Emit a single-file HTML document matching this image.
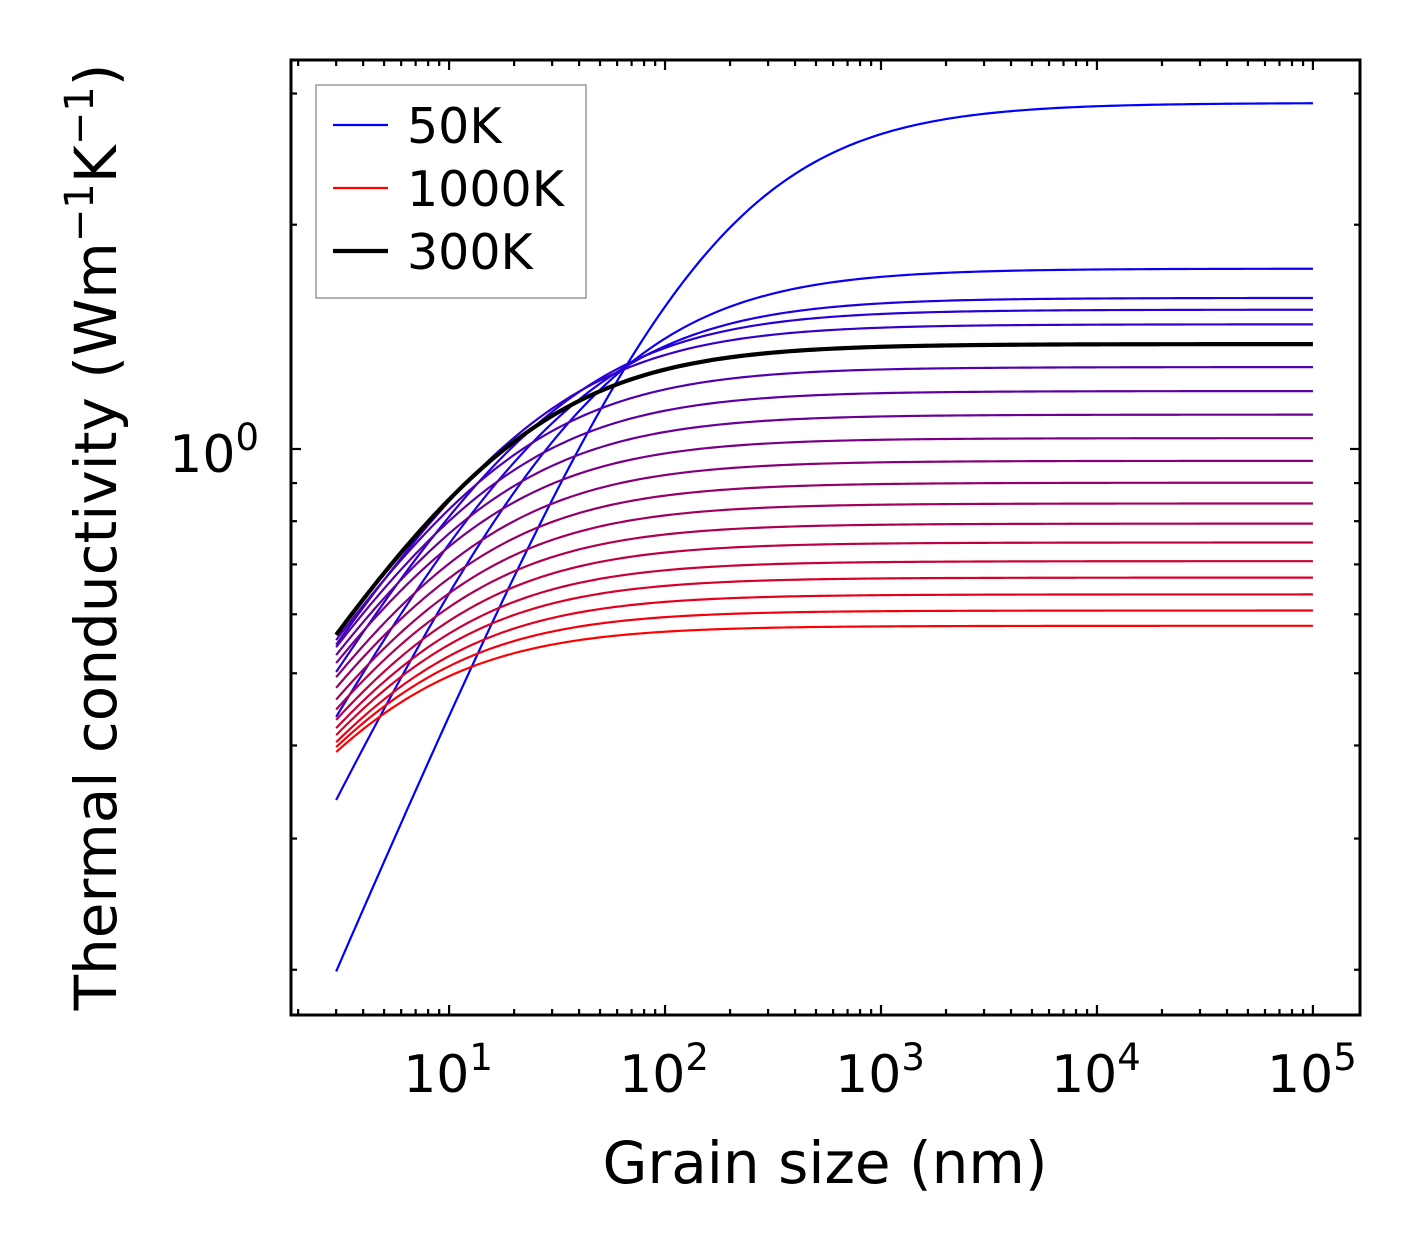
<!DOCTYPE html>
<html><head><meta charset="utf-8"><style>
html,body{margin:0;padding:0;background:#fff;}
svg{display:block;font-family:"DejaVu Sans","Liberation Sans",sans-serif;}
</style></head>
<body>
<svg id="chart" width="1421" height="1254" xmlns="http://www.w3.org/2000/svg"></svg>
<script>
const temperatures = [50,100,150,200,250,300,350,400,450,500,550,600,650,700,750,800,850,900,950,1000];
const kInf = [2.914,1.746,1.595,1.538,1.470,1.383,1.288,1.196,1.112,1.034,0.964,0.901,0.845,0.794,0.749,0.707,0.672,0.638,0.607,0.579];
const k3 = [0.199,0.338,0.437,0.502,0.546,0.563,0.554,0.542,0.529,0.516,0.494,0.478,0.461,0.447,0.433,0.422,0.413,0.404,0.398,0.392];
const shapeExp = [0.68,0.6,0.52,0.48,0.46,0.45,0.45,0.45,0.45,0.45,0.45,0.45,0.45,0.45,0.45,0.45,0.45,0.45,0.45,0.45];
const grainMin = 3, grainMax = 1e5;
const xTickExps = [1,2,3,4,5];
const yMinorVals = [0.2,0.3,0.4,0.5,0.6,0.7,0.8,0.9,2,3];

const NS="http://www.w3.org/2000/svg";
const svg=document.getElementById('chart');
const L=291,R=1360,T=60,B=1015;
const xLogMin=0.268, xLogMax=5.218;
const yLogMin=-0.7597, yLogMax=0.5221;
function xs(v){return L+(Math.log10(v)-xLogMin)/(xLogMax-xLogMin)*(R-L);}
function ys(v){return B-(Math.log10(v)-yLogMin)/(yLogMax-yLogMin)*(B-T);}
function mk(tag,attrs,parent){const e=document.createElementNS(NS,tag);for(const k in attrs)e.setAttribute(k,attrs[k]);(parent||svg).appendChild(e);return e;}

const clip=mk('clipPath',{id:'plotclip'});
mk('rect',{x:L,y:T,width:R-L,height:B-T},clip);

const curves=mk('g',{'clip-path':'url(#plotclip)'});


function pathFor(i){
  const p=shapeExp[i];
  const r3=k3[i]/kInf[i];
  const Lc=grainMin*(Math.pow(r3,-1/p)-1);
  let d='';
  const n=200;
  for(let j=0;j<=n;j++){
    const lg=Math.log10(grainMin)+(Math.log10(grainMax)-Math.log10(grainMin))*j/n;
    const g=Math.pow(10,lg);
    const k=kInf[i]*Math.pow(1+Lc/g,-p);
    d+=(j?'L':'M')+xs(g).toFixed(2)+','+ys(k).toFixed(2);
  }
  return d;
}
let blackIdx=-1;
temperatures.forEach((t,i)=>{
  if(t===300){blackIdx=i;return;}
  const f=(t-50)/950;
  const col=`rgb(${Math.round(255*f)},0,${Math.round(255*(1-f))})`;
  const p=mk('path',{d:pathFor(i),fill:'none',stroke:col,'stroke-width':2.2},curves);
  
  
});
if(blackIdx>=0){
  const p=mk('path',{d:pathFor(blackIdx),fill:'none',stroke:'#000','stroke-width':4.2},curves);
  
  
}

const ticks=mk('g',{stroke:'#000','stroke-width':2.2});


for(let e=0;e<=5;e++){
  for(let m=1;m<10;m++){
    const v=m*Math.pow(10,e);
    const x=xs(v); if(x<L+1||x>R-1)continue;
    const len=m===1?10:6;
    mk('line',{x1:x,y1:B,x2:x,y2:B-len},ticks);
    mk('line',{x1:x,y1:T,x2:x,y2:T+len},ticks);
  }
}
[1].concat(yMinorVals).forEach(v=>{
  const y=ys(v);const len=v===1?10:6;
  mk('line',{x1:L,y1:y,x2:L+len,y2:y},ticks);
  mk('line',{x1:R,y1:y,x2:R-len,y2:y},ticks);
});
const frame=mk('rect',{x:L,y:T,width:R-L,height:B-T,fill:'none',stroke:'#000','stroke-width':3});



xTickExps.forEach(e=>{
  const t=mk('text',{x:xs(Math.pow(10,e))-1,y:1092,'font-size':52,'text-anchor':'middle'});
  
  
  t.innerHTML='10<tspan dy="-22" font-size="37">'+e+'</tspan>';
});
const yl=mk('text',{x:259,y:472,'font-size':52,'text-anchor':'end'});


yl.innerHTML='10<tspan dy="-22" font-size="37">0</tspan>';

const xt=mk('text',{x:825,y:1183,'font-size':58,'text-anchor':'middle'});


xt.textContent='Grain size (nm)';
const yt=mk('text',{x:0,y:0,'font-size':58,'text-anchor':'middle',transform:'translate(116,537) rotate(-90)'});


yt.innerHTML='Thermal conductivity (Wm<tspan dy="-23" font-size="40">−1</tspan><tspan dy="23">K</tspan><tspan dy="-23" font-size="40">−1</tspan><tspan dy="23">)</tspan>';

const lg=mk('g',{});


mk('rect',{x:316,y:85,width:270,height:213,fill:'#fff',stroke:'#999','stroke-width':1.5},lg);
const ents=[['50K','rgb(0,0,255)',2.2,125],['1000K','rgb(255,0,0)',2.2,188],['300K','#000',4.2,251]];
ents.forEach(en=>{
  const g=mk('g',{},lg);
  
  
  mk('line',{x1:333,y1:en[3],x2:388,y2:en[3],stroke:en[1],'stroke-width':en[2]},g);
  const t=mk('text',{x:407,y:en[3]+18,'font-size':49},g);
  t.textContent=en[0];
});
</script>
</body></html>
